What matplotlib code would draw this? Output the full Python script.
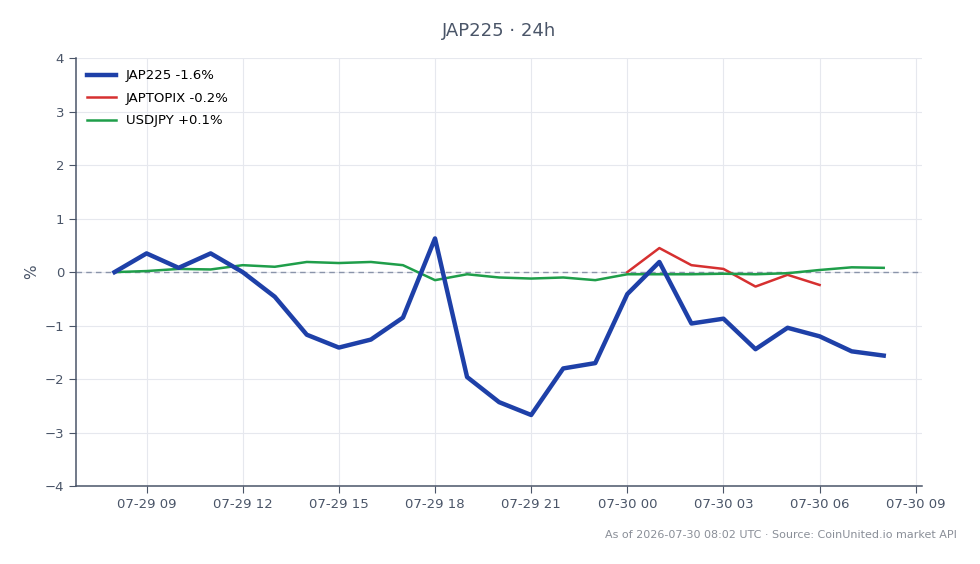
import numpy as np
import pandas as pd
import matplotlib
matplotlib.use("Agg")
import matplotlib.pyplot as plt
import matplotlib.dates as mdates

# hourly % change over the last 24h
times = pd.date_range("2026-07-29 08:00", "2026-07-30 08:00", freq="h")
jap225 = [0.00, 0.35, 0.08, 0.35, 0.00, -0.46, -1.17, -1.41, -1.26, -0.85, 0.63,
          -1.96, -2.43, -2.67, -1.80, -1.70, -0.41, 0.19, -0.96, -0.87, -1.44,
          -1.04, -1.20, -1.48, -1.56]
usdjpy = [0.00, 0.02, 0.06, 0.05, 0.13, 0.10, 0.19, 0.17, 0.19, 0.13, -0.15,
          -0.04, -0.10, -0.12, -0.10, -0.15, -0.04, -0.04, -0.04, -0.03, -0.04,
          -0.02, 0.04, 0.09, 0.08]
topix_times = pd.date_range("2026-07-30 00:00", "2026-07-30 06:00", freq="h")
japtopix = [0.00, 0.45, 0.13, 0.06, -0.27, -0.05, -0.24]

labels = ["JAP225 -1.6%", "JAPTOPIX -0.2%", "USDJPY +0.1%"]

axis_col = "#4a5568"

fig = plt.figure(figsize=(9.8, 5.64), dpi=100)
ax = fig.add_axes([0.0776, 0.138, 0.8634, 0.759])

ax.plot(times, jap225, color="#1e40a8", lw=3.2, label=labels[0], zorder=4)
ax.plot(topix_times, japtopix, color="#d63030", lw=1.8, label=labels[1], zorder=3)
ax.plot(times, usdjpy, color="#1f9e4a", lw=1.8, label=labels[2], zorder=3)
ax.axhline(0, color="#8a94aa", lw=1, ls=(0, (4, 3)), zorder=2)

ax.set_ylim(-4, 4)
ax.set_yticks(range(-4, 5))
ax.set_ylabel("%", color=axis_col, fontsize=11)
ax.xaxis.set_major_locator(mdates.HourLocator(byhour=[0, 3, 6, 9, 12, 15, 18, 21]))
ax.xaxis.set_major_formatter(mdates.DateFormatter("%m-%d %H"))

ax.grid(True, color="#e6e8ee", lw=0.8, zorder=0)
for s in ["top", "right"]:
    ax.spines[s].set_visible(False)
for s in ["left", "bottom"]:
    ax.spines[s].set_color(axis_col)
    ax.spines[s].set_linewidth(1.1)
ax.tick_params(colors=axis_col, labelsize=9.5, length=5)

ax.legend(loc="upper left", frameon=False, fontsize=9.5, handlelength=2.2,
          borderaxespad=0.45, handletextpad=0.7, labelspacing=0.72)

ax.set_title("JAP225 · 24h", color=axis_col, fontsize=13, pad=16)
fig.text(0.976, 0.052, "As of 2026-07-30 08:02 UTC · Source: CoinUnited.io market API",
         ha="right", va="center", color="#8a8f98", fontsize=8)

fig.savefig("out.png", dpi=100)
